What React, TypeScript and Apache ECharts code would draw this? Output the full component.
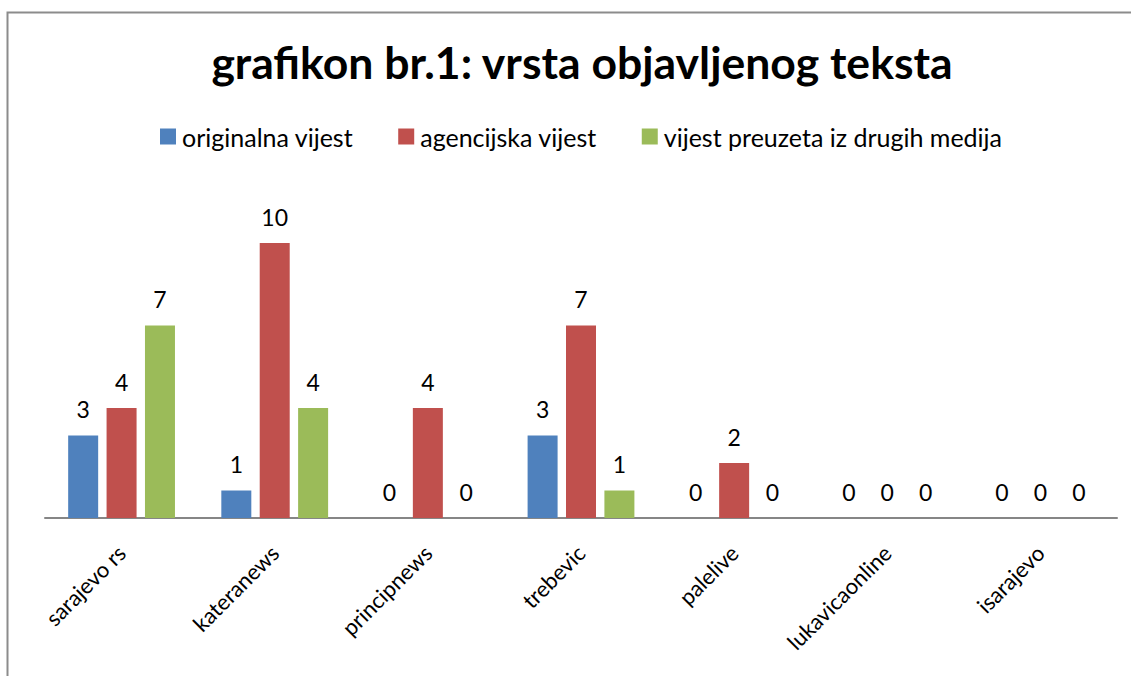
import React, { useEffect, useRef } from "react";
import * as echarts from "echarts";

const categories = ["sarajevo rs", "kateranews", "principnews", "trebevic", "palelive", "lukavicaonline", "isarajevo"];
const seriesNames = ["originalna vijest", "agencijska vijest", "vijest preuzeta iz drugih medija"];
const originalna = [3, 1, 0, 3, 0, 0, 0];
const agencijska = [4, 10, 4, 7, 2, 0, 0];
const preuzeta = [7, 4, 0, 1, 0, 0, 0];
const colors = ["#4F81BD", "#C0504D", "#9BBB59"];

const FONT = "Lato, 'Open Sans', sans-serif";

export default function App() {
  const ref = useRef<HTMLDivElement>(null);
  useEffect(() => {
    const chart = echarts.init(ref.current!, null, { renderer: "svg" });
    const data = [originalna, agencijska, preuzeta];
    chart.setOption({
      animation: false,
      backgroundColor: "#ffffff",
      title: {
        text: "grafikon br.1: vrsta objavljenog teksta",
        left: 577,
        textAlign: "center",
        top: 34,
        textStyle: { fontFamily: FONT, fontSize: 44.5, fontWeight: "bold", color: "#000" },
      },
      legend: {
        top: 119,
        left: 155,
        itemWidth: 16,
        itemHeight: 16,
        itemGap: 45,
        icon: "rect",
        textStyle: { fontFamily: FONT, fontSize: 25, color: "#000", padding: [0, 0, 0, 1] },
        data: seriesNames,
      },
      grid: { left: 45, right: 14, top: 188, bottom: 158, containLabel: false },
      xAxis: {
        type: "category",
        data: categories,
        axisLine: { lineStyle: { color: "#868686", width: 2 } },
        axisTick: { show: false },
        axisLabel: { rotate: 45, fontFamily: FONT, fontSize: 22, color: "#000", margin: 31, interval: 0 },
      },
      yAxis: {
        type: "value",
        min: 0,
        max: 12,
        interval: 2,
        show: false,
        splitLine: { show: false },
      },
      graphic: [
        {
          type: "polyline",
          shape: { points: [[7.5, 676], [7.5, 12.5], [1131, 12.5]] },
          style: { stroke: "#8c8c8c", lineWidth: 2, fill: null },
          silent: true,
        },
      ],
      series: seriesNames.map((name, i) => ({
        name,
        type: "bar",
        data: data[i],
        barWidth: 30,
        barGap: "28%",
        itemStyle: { color: colors[i] },
        label: {
          show: true,
          position: "top",
          distance: 15,
          fontFamily: FONT,
          fontSize: 23,
          color: "#000",
        },
      })),
    });
    return () => chart.dispose();
  }, []);
  return <div ref={ref} style={{ position: "fixed", left: 0, top: 0, width: 1131, height: 676 }} />;
}
